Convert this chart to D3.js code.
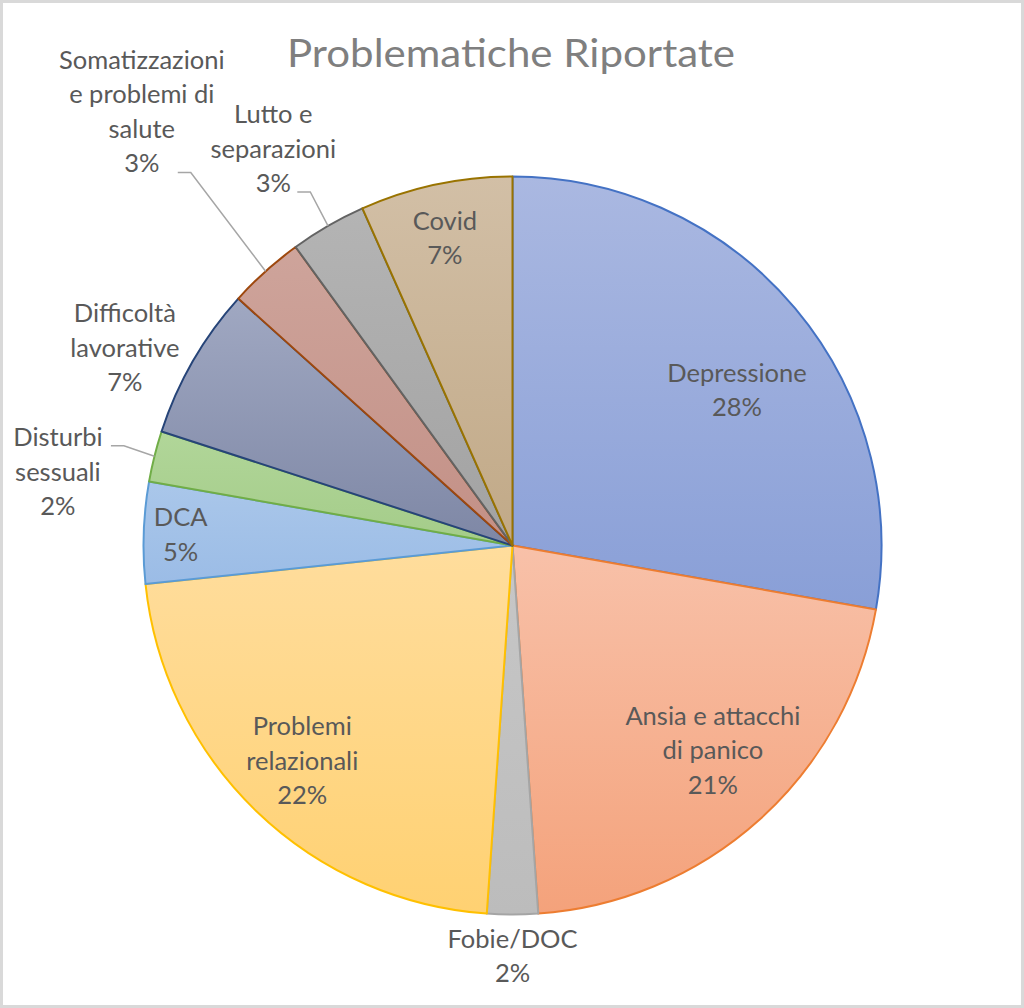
<!DOCTYPE html>
<html>
<head>
<meta charset="utf-8">
<script src="https://cdn.jsdelivr.net/npm/d3@7.9.0/dist/d3.min.js"></script>
<style>
  html, body { margin: 0; padding: 0; background: #fff; }
  svg { display: block; }
  text { font-family: Lato, "Noto Sans", sans-serif; }
</style>
</head>
<body>
<div id="chart"></div>
<script>
// Data: number of reported cases per problem (total 90)
const categories = [
  'Depressione', 'Ansia e attacchi di panico', 'Fobie/DOC', 'Problemi relazionali',
  'DCA', 'Disturbi sessuali', 'Difficoltà lavorative',
  'Somatizzazioni e problemi di salute', 'Lutto e separazioni', 'Covid'
];
const counts = [25, 19, 2, 20, 4, 2, 6, 3, 3, 6];
// label text as wrapped in the chart
const labelLines = [
  ['Depressione'], ['Ansia e attacchi', 'di panico'], ['Fobie/DOC'], ['Problemi', 'relazionali'],
  ['DCA'], ['Disturbi', 'sessuali'], ['Difficoltà', 'lavorative'],
  ['Somatizzazioni', 'e problemi di', 'salute'], ['Lutto e', 'separazioni'], ['Covid']
];

// Styles
const strokeColors = ['#4472C4', '#ED7D31', '#A5A5A5', '#FFC000', '#5B9BD5', '#70AD47',
                      '#264478', '#9E480E', '#636363', '#997300'];
const topColors = ['#aab8e1', '#f8c1a9', '#c7c7c7', '#ffdd9d', '#aac7ea', '#b1d699',
                   '#a0a8c2', '#cea49b', '#b4b4b4', '#d2bfa6'];
const bottomColors = ['#899fd7', '#f4a27b', '#bcbcbc', '#ffd172', '#9bbce6', '#a4cc89',
                      '#7e87a5', '#c39086', '#a2a2a2', '#c1a987'];

// Label layout: polar position of the label block centre (deg clockwise from top, radius factor)
const labelAngle = [55.3, 135.6, 180, 224.3, 271.9, 279.2, 297, 319.5, 328.9, 347.6];
const labelRadius = [0.74, 0.776, 1.113, 0.816, 0.9, 1.248, 1.179, 1.547, 1.255, 0.853];
// leader line start, relative to label centre (null = no leader)
const leaderStart = [null, null, null, null, null, [53, -26], null, [36, 61], [24, 43], null];

const width = 1024, height = 1008;
const cx = 512.5, cy = 545.5, R = 369;
const lineH = 34.5;

// Excel-like percentage rounding (largest remainder so labels sum to 100)
function roundedPercents(vals) {
  const total = d3.sum(vals);
  const raw = vals.map(v => v / total * 100);
  const out = raw.map(Math.floor);
  let left = 100 - d3.sum(out);
  const order = d3.range(vals.length).sort((a, b) => (raw[b] - out[b]) - (raw[a] - out[a]));
  for (let k = 0; k < left; k++) out[order[k]] += 1;
  return out;
}
const pct = roundedPercents(counts);

const svg = d3.select('#chart').append('svg')
  .attr('width', width).attr('height', height)
  .attr('viewBox', `0 0 ${width} ${height}`);

svg.append('rect')
  .attr('x', 1.5).attr('y', 1.5)
  .attr('width', width - 3).attr('height', height - 3)
  .attr('fill', '#fff').attr('stroke', '#d9d9d9').attr('stroke-width', 3);

// Gradients
const defs = svg.append('defs');
categories.forEach((c, i) => {
  const g = defs.append('linearGradient')
    .attr('id', 'grad' + i)
    .attr('x1', 0).attr('y1', 0).attr('x2', 0).attr('y2', 1);
  g.append('stop').attr('offset', '0%').attr('stop-color', topColors[i]);
  g.append('stop').attr('offset', '100%').attr('stop-color', bottomColors[i]);
});

// Title
svg.append('text')
  .attr('x', 511).attr('y', 67)
  .attr('text-anchor', 'middle')
  .attr('font-size', 38)
  .attr('textLength', 448)
  .attr('lengthAdjust', 'spacingAndGlyphs')
  .attr('fill', '#7f7f7f')
  .text('Problematiche Riportate');

const pie = d3.pie().sort(null).value(d => d);
const arcs = pie(counts);
const arc = d3.arc().innerRadius(0).outerRadius(R);

const g = svg.append('g').attr('transform', `translate(${cx},${cy})`);

g.selectAll('path.slice')
  .data(arcs)
  .join('path')
  .attr('class', 'slice')
  .attr('d', arc)
  .attr('fill', (d, i) => `url(#grad${i})`)
  .attr('stroke', (d, i) => strokeColors[i])
  .attr('stroke-width', 2)
  .attr('stroke-linejoin', 'round');

// Labels
const toXY = (deg, r) => {
  const a = deg * Math.PI / 180;
  return [r * Math.sin(a), -r * Math.cos(a)];
};

arcs.forEach((d, i) => {
  const [lx, ly] = toXY(labelAngle[i], labelRadius[i] * R);
  const lines = labelLines[i].concat([pct[i] + '%']);
  const y0 = ly - (lines.length - 1) * lineH / 2;

  const t = g.append('text')
    .attr('text-anchor', 'middle')
    .attr('font-size', 25.5)
    .attr('fill', '#595959');
  lines.forEach((s, k) => {
    t.append('tspan')
      .attr('x', lx)
      .attr('y', y0 + k * lineH)
      .attr('dy', '0.35em')
      .text(s);
  });

  if (leaderStart[i]) {
    const mid = (d.startAngle + d.endAngle) / 2 * 180 / Math.PI;
    const [ex, ey] = toXY(mid, R);
    const sx = lx + leaderStart[i][0], sy = ly + leaderStart[i][1];
    g.append('path')
      .attr('d', `M${sx},${sy}H${sx + 13}L${ex},${ey}`)
      .attr('fill', 'none')
      .attr('stroke', '#a6a6a6')
      .attr('stroke-width', 1.5);
  }
});
</script>
</body>
</html>
